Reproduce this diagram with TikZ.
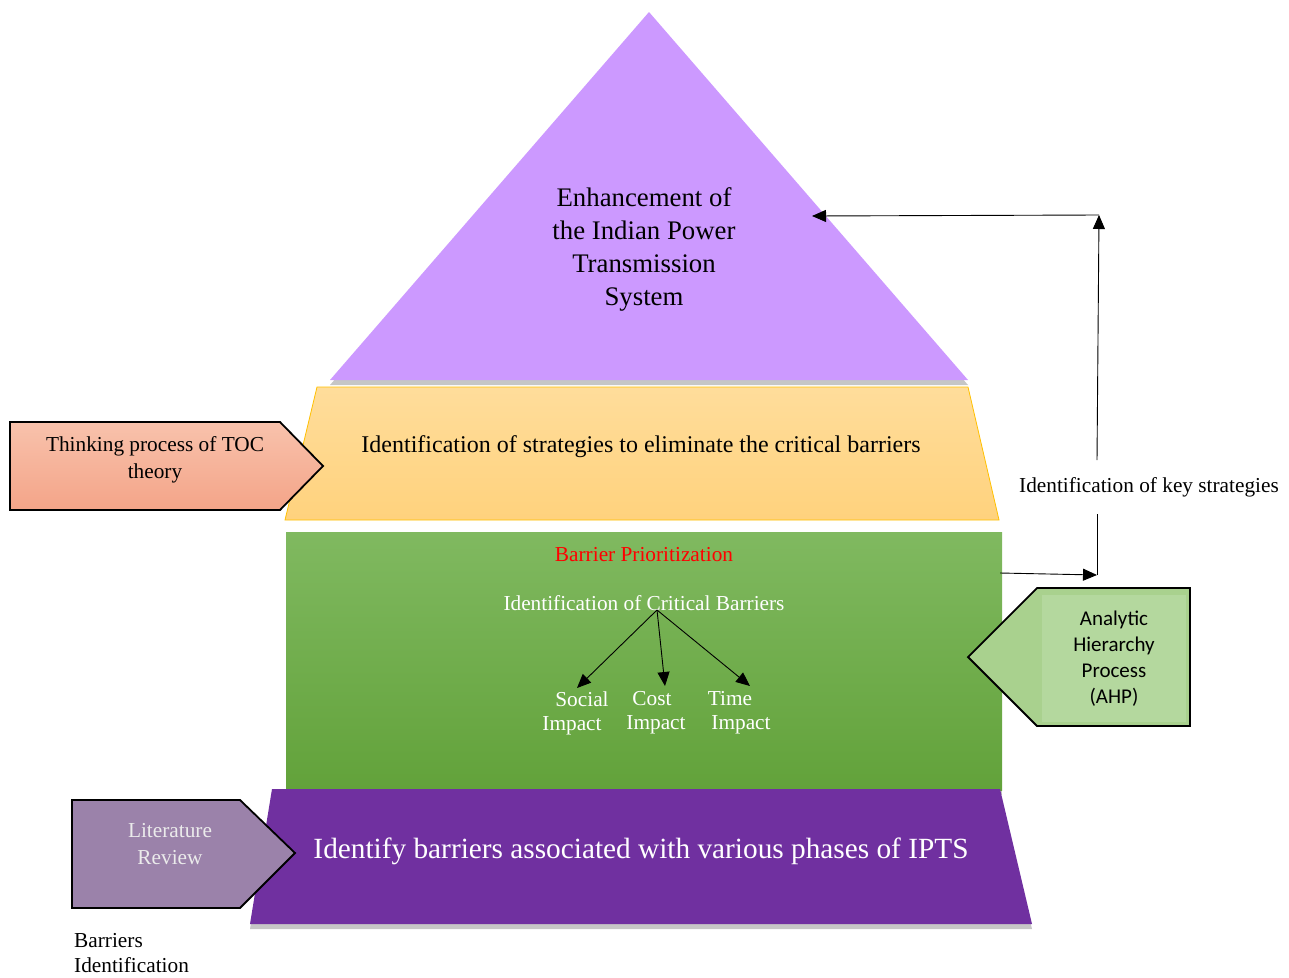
\documentclass[tikz,border=0pt]{standalone}
\usepackage{fontspec}
\setmainfont{Liberation Serif}
\newfontfamily\calibri{Carlito}
\usetikzlibrary{arrows.meta,shadows,positioning}

\definecolor{goalfill}{RGB}{204,153,255}
\definecolor{stratTop}{RGB}{255,221,155}
\definecolor{stratBot}{RGB}{255,210,125}
\definecolor{stratEdge}{RGB}{255,192,0}
\definecolor{prioTop}{RGB}{128,185,96}
\definecolor{prioBot}{RGB}{98,162,58}
\definecolor{baseFill}{RGB}{112,48,160}
\definecolor{tocTop}{RGB}{248,194,172}
\definecolor{tocBot}{RGB}{244,164,136}
\definecolor{litFill}{RGB}{155,130,170}
\definecolor{ahpFill}{RGB}{169,209,142}
\definecolor{ahpInner}{RGB}{180,216,158}

\tikzset{
  tip/.style={-{Triangle[length=14pt,width=12pt]}, line width=0.9pt},
  banner/.style={draw=black, line width=1.8pt, line join=miter},
  shade/.style={drop shadow={shadow xshift=0pt, shadow yshift=-5pt, opacity=0.45}},
  txt/.style={font=\fontsize{21.3}{24}\selectfont, align=center, inner sep=0pt},
}

\begin{document}
\begin{tikzpicture}[x=1pt,y=-1pt]
\useasboundingbox (0,0) rectangle (1289,977);

% Goal triangle
\fill[goalfill, shade] (649,12) -- (968,380) -- (330,380) -- cycle;
\node[txt, font=\fontsize{26.8}{33}\selectfont] (goal) at (644,249)
  {Enhancement of\\the Indian Power\\Transmission\\System};

% Strategies layer
\path[draw=stratEdge, line width=0.8pt, top color=stratTop, bottom color=stratBot]
  (317,387) -- (968,387) -- (999,520) -- (285,520) -- cycle;
\node[txt, font=\fontsize{24}{26}\selectfont] (strat) at (641,447)
  {Identification of strategies to eliminate the critical barriers};

% Prioritization layer
\path[top color=prioTop, bottom color=prioBot, shade] (286,532) rectangle (1002,790);
\node[txt, text=red] (prio) at (644,555) {Barrier Prioritization};
\node[txt, text=white] (crit) at (644,603) {Identification of Critical Barriers};
\node[txt, text=white] (social) at (572,713) {\hspace*{20pt}Social\\Impact};
\node[txt, text=white] (cost) at (652,713) {Cost\\\hspace*{8pt}Impact};
\node[txt, text=white] (time) at (737,713) {Time\hspace*{14pt}\\\hspace*{8pt}Impact};
\coordinate (fork) at (657,610);
\draw[tip] (fork) -- (577,688);
\draw[tip] (fork) -- (665,686);
\draw[tip] (fork) -- (750,686);

% Base layer
\fill[baseFill, shade] (272,789) -- (1000,789) -- (1032,924) -- (250,924) -- cycle;
\node[txt, text=white, font=\fontsize{29.3}{32}\selectfont] (base) at (641,851)
  {Identify barriers associated with various phases of IPTS};

% TOC arrow
\path[banner, top color=tocTop, bottom color=tocBot]
  (10,422) -- (280,422) -- (323,466) -- (280,510) -- (10,510) -- cycle;
\node[txt, font=\fontsize{21.3}{27}\selectfont] (toc) at (155,460)
  {Thinking process of TOC\\theory};

% Literature arrow
\path[banner, fill=litFill] (72,800) -- (240,800) -- (295,853) -- (240,908) -- (72,908) -- cycle;
\node[txt, text=white!92!black, font=\fontsize{21.3}{27}\selectfont] (lit) at (170,844)
  {Literature\\Review};
\node[txt, align=left, anchor=north west, font=\fontsize{21.3}{25}\selectfont] (barid) at (74,933)
  {Barriers\\Identification};

% AHP arrow
\path[banner, fill=ahpFill] (968,657) -- (1037,588) -- (1190,588) -- (1190,726) -- (1037,726) -- cycle;
\fill[ahpInner] (1042,595) rectangle (1186,722);
\node[txt, font=\calibri\fontsize{21}{26}\selectfont] (ahp) at (1114,659)
  {Analytic\\Hierarchy\\Process\\(AHP)};

% Key strategies feedback
\node[txt, inner ysep=17pt] (key) at (1149,487) {Identification of key strategies};
\coordinate (prioE) at (1000,573);
\coordinate (kb) at (1097,575);
\coordinate (kt) at (1099,215);
\coordinate (goalin) at (812,216);
\draw[tip] (prioE) -- (kb);
\draw[line width=0.9pt] (kb) -- (kb |- key.south);
\draw[tip] (kb |- key.north) -- (kt);
\draw[tip] (kt) -- (goalin);
\end{tikzpicture}
\end{document}
